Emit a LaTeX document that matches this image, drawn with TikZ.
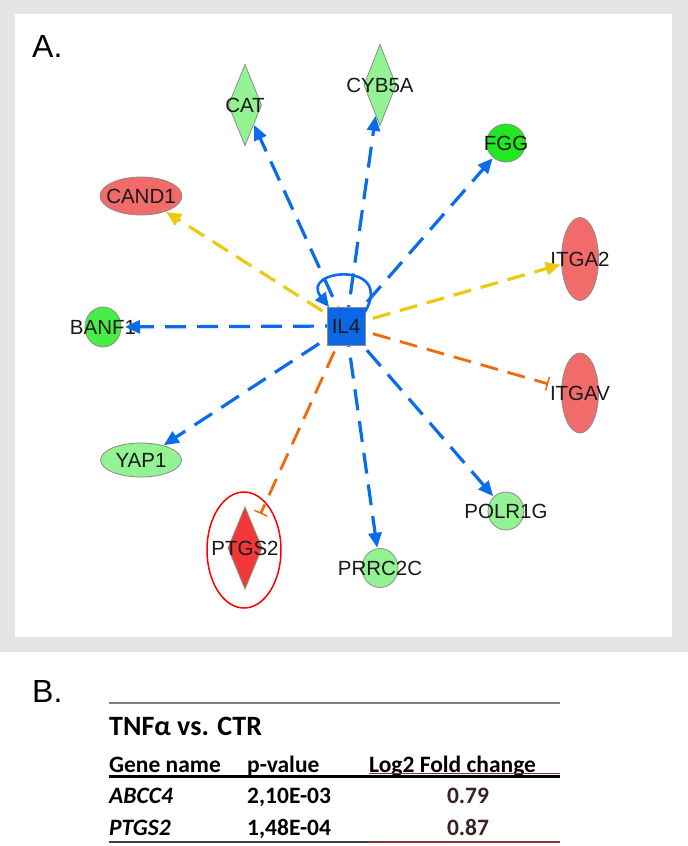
\documentclass[tikz,border=0pt]{standalone}
\usepackage{fontspec}
\setmainfont{Liberation Sans}
\newfontfamily\calib{Carlito}
\usetikzlibrary{shapes.geometric,arrows.meta}
\definecolor{framegray}{HTML}{E6E4E6}
\definecolor{edgeblue}{HTML}{0A6CEB}
\definecolor{edgeyellow}{HTML}{EBCB12}
\definecolor{edgeorange}{HTML}{EE6A0A}
\definecolor{upred}{HTML}{F26B6B}
\definecolor{lgreen}{HTML}{93F393}
\definecolor{mgreen}{HTML}{47EE47}
\definecolor{bgreen}{HTML}{22E822}
\definecolor{il4blue}{HTML}{0A68E6}
\definecolor{ptred}{HTML}{F03838}
\definecolor{valdark}{HTML}{3A2222}
\definecolor{rulered}{HTML}{7A3A3A}
\tikzset{
  gene/.style={draw=black!45, line width=0.8pt, inner sep=0pt, outer sep=0pt},
  lab/.style={font=\fontsize{20.5}{21}\selectfont, text=black!90, inner sep=0pt},
  edgebase/.style={line width=3.2pt, shorten >=1pt},
  bedge/.style={edgebase, draw=edgeblue, dash pattern=on 21pt off 11pt, -{Triangle[length=15pt,width=13pt,fill=edgeblue]}},
  yedge/.style={edgebase, draw=edgeyellow, dash pattern=on 18pt off 10pt, -{Triangle[length=15pt,width=13pt,fill=edgeyellow]}},
  oedge/.style={line width=2.8pt, draw=edgeorange, dash pattern=on 18pt off 10pt, -{Bar[width=14pt,line width=1.5pt]}, shorten >=14pt},
  tabtxt/.style={font=\calib\bfseries\fontsize{23.5}{25}\selectfont, anchor=base west, inner sep=0pt},
}
\begin{document}
\begin{tikzpicture}[x=1pt,y=-1pt]
\useasboundingbox (0,0) rectangle (688,846);
\fill[white] (0,0) rectangle (688,846);
% frame
\fill[framegray] (0,0) rectangle (688,652);
\fill[white] (15,14) rectangle (672,637);
\node[font=\fontsize{32}{34}\selectfont, anchor=base west, inner sep=0pt] (labA) at (32,57) {A.};
% nodes
\node[gene, diamond, fill=lgreen, minimum width=33pt, minimum height=81pt, label={[lab]center:CAT}] (CAT) at (245,105) {};
\node[gene, diamond, fill=lgreen, minimum width=32pt, minimum height=81pt, label={[lab]center:CYB5A}] (CYB5A) at (380,85) {};
\node[gene, ellipse, fill=bgreen, minimum width=39pt, minimum height=38pt, label={[lab]center:FGG}] (FGG) at (506,143) {};
\node[gene, ellipse, fill=upred, minimum width=82pt, minimum height=38pt, label={[lab]center:CAND1}] (CAND1) at (141,196) {};
\node[gene, ellipse, fill=upred, minimum width=37pt, minimum height=83pt, label={[lab]center:ITGA2}] (ITGA2) at (580,259) {};
\node[gene, ellipse, fill=upred, minimum width=37pt, minimum height=80pt, label={[lab]center:ITGAV}] (ITGAV) at (580,393) {};
\node[gene, ellipse, fill=mgreen, minimum width=36pt, minimum height=40pt, label={[lab]center:BANF1}] (BANF1) at (103,327) {};
\node[gene, ellipse, fill=lgreen, minimum width=81pt, minimum height=34pt, label={[lab]center:YAP1}] (YAP1) at (141,460) {};
\node[ellipse, draw=red, line width=1.5pt, minimum width=74pt, minimum height=116pt, inner sep=0pt] (ring) at (244,550) {};
\node[gene, diamond, fill=ptred, minimum width=34pt, minimum height=82pt, label={[lab]center:PTGS2}] (PTGS2) at (245,548) {};
\node[gene, ellipse, fill=lgreen, minimum width=36pt, minimum height=39pt, label={[lab]center:PRRC2C}] (PRRC2C) at (380,568) {};
\node[gene, ellipse, fill=lgreen, minimum width=36pt, minimum height=38pt, label={[lab]center:POLR1G}] (POLR1G) at (506,511) {};
% edges
\coordinate (hub) at (346,326);
\draw[bedge] (hub) -- (CAT);
\draw[bedge] (hub) -- (CYB5A);
\draw[bedge] (hub) -- (FGG);
\draw[yedge] (hub) -- (CAND1);
\draw[yedge] (hub) -- (ITGA2);
\draw[oedge] (hub) -- (ITGAV);
\draw[bedge, shorten >=4pt] (hub) -- (BANF1);
\draw[bedge] (hub) -- (YAP1);
\draw[oedge, shorten >=16pt] (hub) -- (PTGS2);
\draw[bedge] (hub) -- (PRRC2C);
\draw[bedge] (hub) -- (POLR1G);
\node[gene, rectangle, fill=il4blue, minimum width=38pt, minimum height=38pt, label={[lab]center:IL4}] (IL4) at (hub) {};
\draw[edgeblue, line width=2.6pt, -{Triangle[length=14pt,width=13pt,fill=edgeblue]}] ([yshift=-5pt]IL4.north east) .. controls +(30,-52) and +(-30,-38) .. ([xshift=2pt]IL4.north west);
% table
\node[font=\fontsize{32}{34}\selectfont, anchor=base west, inner sep=0pt] (labB) at (32,702) {B.};
\draw[line width=2pt, black!50] (109,703) -- (560,703);
\node[font=\calib\bfseries\fontsize{28}{30}\selectfont, anchor=base west, inner sep=0pt] (ttl) at (109,735) {TNFα vs. CTR};
\node[tabtxt] (h1) at (109,772) {Gene name};
\node[tabtxt] (h2) at (247,772) {p-value};
\node[tabtxt] (h3) at (369,772) {Log2 Fold change};
\draw[line width=1pt, rulered] (369,773.5) -- (560,773.5);
\draw[line width=3pt, black] (109,776.5) -- (560,776.5);
\node[tabtxt, font=\calib\bfseries\itshape\fontsize{23.5}{25}\selectfont] (r1a) at (109,803) {ABCC4};
\node[tabtxt] (r1b) at (247,803) {2,10E-03};
\node[tabtxt, anchor=base, text=valdark] (r1c) at (468,803) {0.79};
\node[tabtxt, font=\calib\bfseries\itshape\fontsize{23.5}{25}\selectfont] (r2a) at (109,835) {PTGS2};
\node[tabtxt] (r2b) at (247,835) {1,48E-04};
\node[tabtxt, anchor=base, text=valdark] (r2c) at (468,835) {0.87};
\draw[line width=1.6pt, black!75] (109,842) -- (560,842);
\draw[line width=1.2pt, rulered] (369,842) -- (560,842);
\end{tikzpicture}
\end{document}
